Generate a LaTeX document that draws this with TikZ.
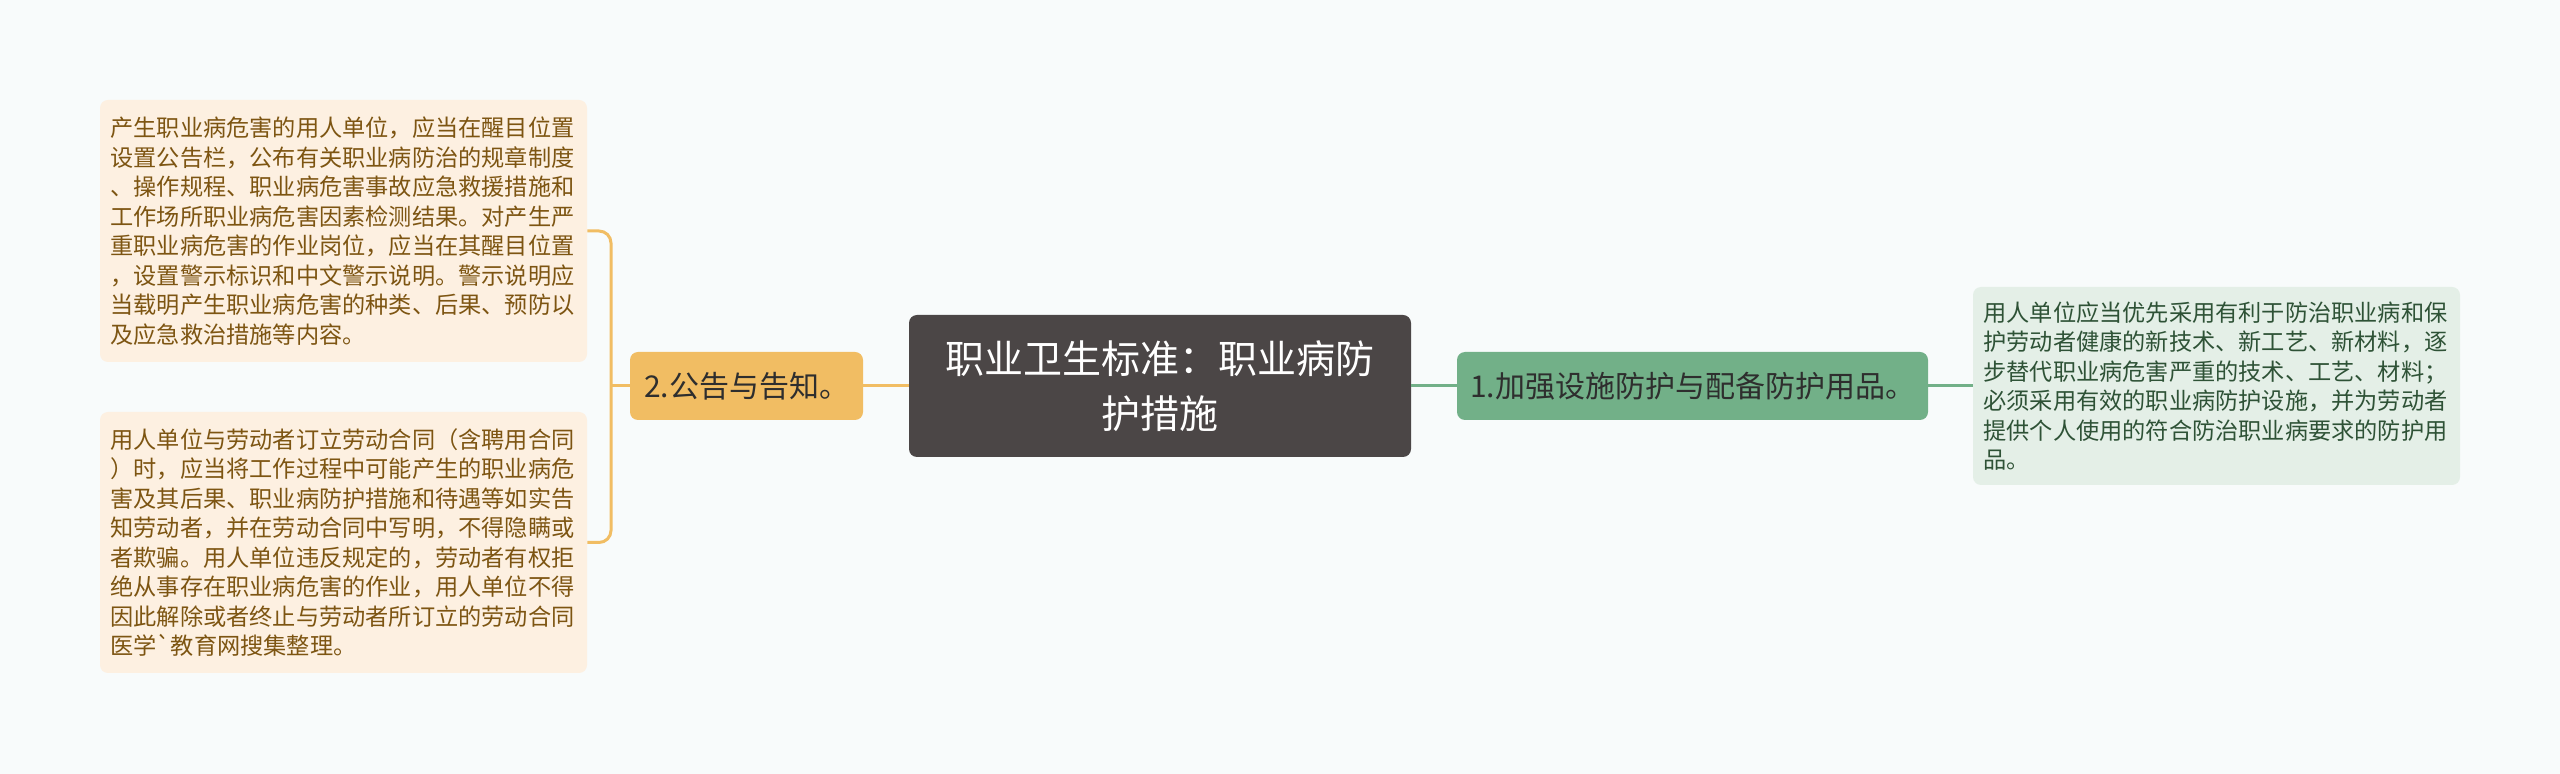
\documentclass[tikz,border=0pt]{standalone}
\usepackage{fontspec}
\newfontfamily\cjk{Noto Sans CJK SC}
\definecolor{bgc}{HTML}{F8FBFB}
\definecolor{rootc}{HTML}{4B4646}
\definecolor{orangec}{HTML}{F1BD63}
\definecolor{greenc}{HTML}{72B088}
\definecolor{leafo}{HTML}{FDF0E1}
\definecolor{leafg}{HTML}{E4EFE7}
\definecolor{texto}{HTML}{7D5512}
\definecolor{textg}{HTML}{2E5236}
\tikzset{
  leaf/.style={rounded corners=4pt, inner xsep=5.25pt, inner ysep=0pt, text width=233pt,
    align=left, font=\cjk\fontsize{11.6}{14.75}\selectfont},
  branch/.style={rounded corners=4pt, minimum height=34pt, inner xsep=0pt,
    font=\cjk\fontsize{15}{17}\selectfont, text=black!82},
  link/.style={line width=1.5pt}
}
\begin{document}
\begin{tikzpicture}[x=0.5pt, y=-0.5pt]
    \fill[bgc] (0,0) rectangle (2560,774);

    % Root
    \node[fill=rootc, text=white, rounded corners=4pt, minimum width=251pt, minimum height=71pt,
      align=center, font=\cjk\fontsize{19.5}{27.5}\selectfont] (root) at (1160,386)
      {职业卫生标准：职业病防\\护措施};

    % Branches
    \node[branch, fill=orangec, minimum width=116.5pt] (b2) at (746.5,386) {2.公告与告知。};
    \node[branch, fill=greenc, minimum width=235.5pt] (b1) at (1692.5,386) {1.加强设施防护与配备防护用品。};

    % Leaves
    \node[leaf, fill=leafo, text=texto, minimum height=131pt] (l1) at (343.5,231)
      {产生职业病危害的用人单位，应当在醒目位置\\
       设置公告栏，公布有关职业病防治的规章制度\\
       、操作规程、职业病危害事故应急救援措施和\\
       工作场所职业病危害因素检测结果。对产生严\\
       重职业病危害的作业岗位，应当在其醒目位置\\
       ，设置警示标识和中文警示说明。警示说明应\\
       当载明产生职业病危害的种类、后果、预防以\\
       及应急救治措施等内容。};
    \node[leaf, fill=leafo, text=texto, minimum height=130.5pt] (l2) at (343.5,542.5)
      {用人单位与劳动者订立劳动合同（含聘用合同\\
       ）时，应当将工作过程中可能产生的职业病危\\
       害及其后果、职业病防护措施和待遇等如实告\\
       知劳动者，并在劳动合同中写明，不得隐瞒或\\
       者欺骗。用人单位违反规定的，劳动者有权拒\\
       绝从事存在职业病危害的作业，用人单位不得\\
       因此解除或者终止与劳动者所订立的劳动合同\\
       医学`教育网搜集整理。};
    \node[leaf, fill=leafg, text=textg, minimum height=99pt] (r1) at (2216.5,386)
      {用人单位应当优先采用有利于防治职业病和保\\
       护劳动者健康的新技术、新工艺、新材料，逐\\
       步替代职业病危害严重的技术、工艺、材料；\\
       必须采用有效的职业病防护设施，并为劳动者\\
       提供个人使用的符合防治职业病要求的防护用\\
       品。};

    % Connectors
    \coordinate (jl) at (611,386);
    \draw[link, orangec] (root.west) -- (b2.east);
    \draw[link, orangec] (b2.west) -- (jl);
    \draw[link, orangec, rounded corners=6pt] (l1.east) -| (jl) |- (l2.east);
    \draw[link, greenc] (root.east) -- (b1.west);
    \draw[link, greenc] (b1.east) -- (r1.west);
\end{tikzpicture}
\end{document}
